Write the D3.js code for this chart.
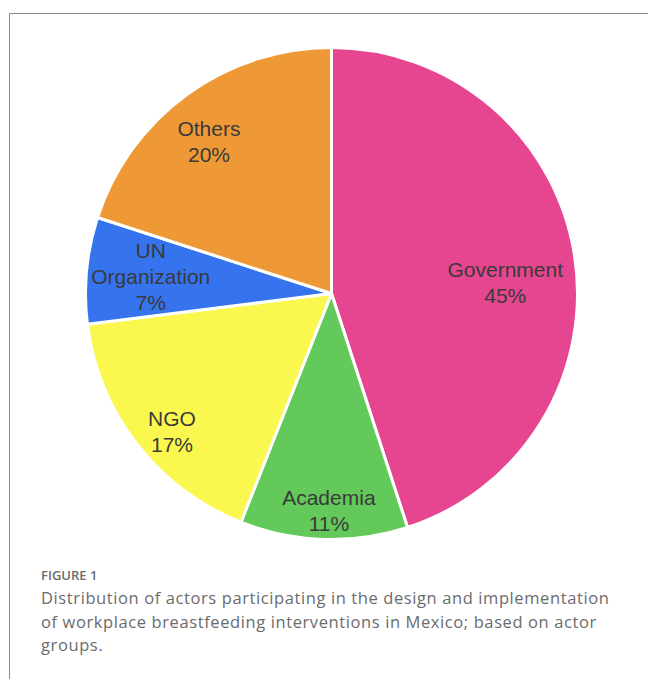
<!DOCTYPE html>
<html>
<head>
<meta charset="utf-8">
<script src="https://cdn.jsdelivr.net/npm/d3@7/dist/d3.min.js"></script>
<style>
  html, body { margin: 0; padding: 0; background: #fff; }
  svg { display: block; }
</style>
</head>
<body>
<svg id="chart" width="648" height="679"></svg>
<script>
// Actor groups and their share (%) of participants
const categories = ["Government", "Academia", "NGO", "UN Organization", "Others"];
const shares = [45, 11, 17, 7, 20];
const labelLines = [["Government"], ["Academia"], ["NGO"], ["UN", "Organization"], ["Others"]];
const colors = ["#E6468F", "#62C95A", "#FAF84F", "#3574EE", "#EF9936"];

const captionTitle = "FIGURE 1";
const captionLines = [
  "Distribution of actors participating in the design and implementation",
  "of workplace breastfeeding interventions in Mexico; based on actor",
  "groups."
];

const W = 648, H = 679;
const cx = 331.5, cy = 293.5, R = 246;
// label placement inside each slice: angular nudge (deg) and radius fraction
const labelTurn = [5.2, -1.1, -3.1, 0, -2.8];
const labelRadius = [0.708, 0.88, 0.858, 0.738, 0.795];

const svg = d3.select("#chart");

// panel frame (top and left rules)
svg.append("path")
  .attr("d", `M9.5,${H} V13.5 H${W}`)
  .attr("fill", "none")
  .attr("stroke", "#8a8a8a")
  .attr("stroke-width", 1);

const data = categories.map((c, i) => ({
  name: c, value: shares[i], lines: labelLines[i], color: colors[i],
  turn: labelTurn[i], lr: labelRadius[i]
}));

const pie = d3.pie().value(d => d.value).sort(null);
const arc = d3.arc().innerRadius(0).outerRadius(R);
const arcs = pie(data);

const g = svg.append("g").attr("transform", `translate(${cx},${cy})`);

g.selectAll("path.slice")
  .data(arcs)
  .join("path")
  .attr("class", "slice")
  .attr("d", arc)
  .attr("fill", d => d.data.color)
  .attr("stroke", "#fff")
  .attr("stroke-width", 3)
  .attr("stroke-linejoin", "round");

const lineH = 26;
g.selectAll("text.lbl")
  .data(arcs)
  .join("text")
  .attr("class", "lbl")
  .attr("text-anchor", "middle")
  .attr("font-family", "'Liberation Sans', Arial, Helvetica, sans-serif")
  .attr("font-size", 21)
  .attr("fill", "#3a3a3a")
  .each(function(d) {
    const a = (d.startAngle + d.endAngle) / 2 + d.data.turn * Math.PI / 180;
    const r = R * d.data.lr;
    const x = r * Math.sin(a), y = -r * Math.cos(a);
    const lines = d.data.lines.concat([d.data.value + "%"]);
    const y0 = y - (lines.length - 1) * lineH / 2;
    const t = d3.select(this);
    lines.forEach((s, i) => {
      t.append("tspan")
        .attr("x", x)
        .attr("y", y0 + i * lineH)
        .attr("dy", "0.36em")
        .text(s);
    });
  });

// caption
svg.append("text")
  .attr("x", 41)
  .attr("y", 580)
  .attr("font-family", "'Open Sans', 'Noto Sans', sans-serif")
  .attr("font-size", 13)
  .attr("font-weight", 600)
  .attr("fill", "#6b6b6b")
  .text(captionTitle);

svg.append("g")
  .selectAll("text")
  .data(captionLines)
  .join("text")
  .attr("x", 41)
  .attr("y", (d, i) => 604 + i * 23.5)
  .attr("font-family", "'Open Sans', 'Noto Sans', sans-serif")
  .attr("font-size", 16.5)
  .attr("letter-spacing", 0.6)
  .attr("fill", "#6b6b6b")
  .text(d => d);
</script>
</body>
</html>
